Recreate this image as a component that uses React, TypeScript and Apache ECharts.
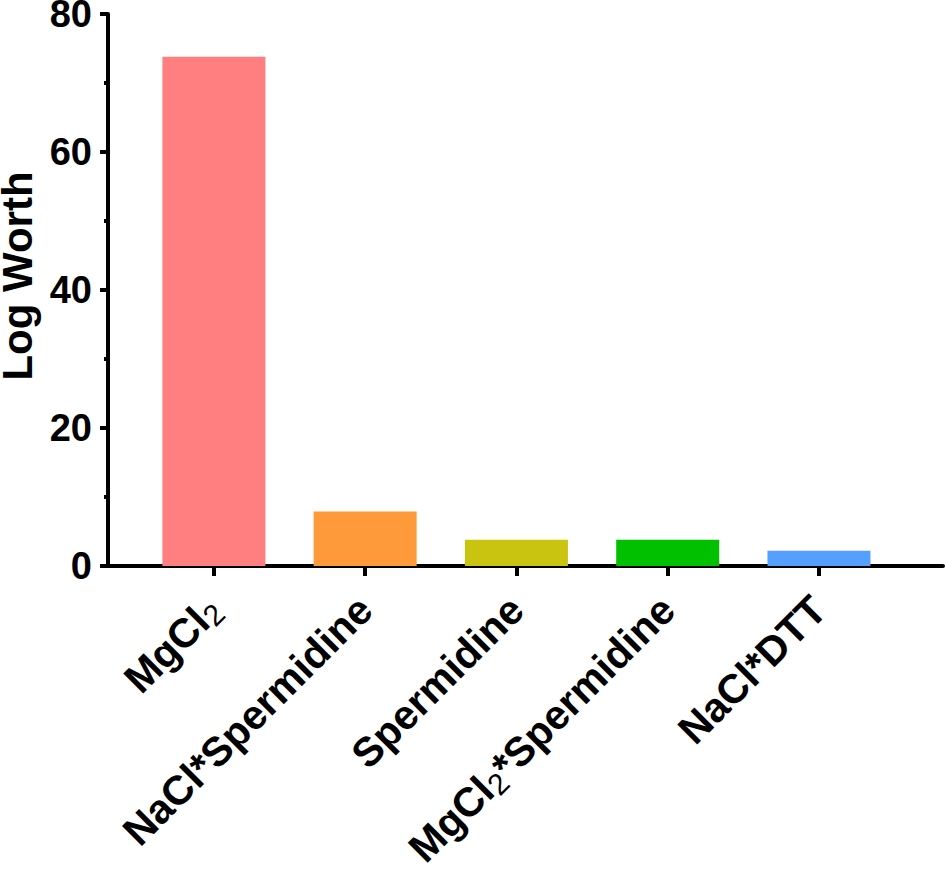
import React, { useEffect, useRef } from "react";
import * as echarts from "echarts";

const categories = ["MgCl2", "NaCl*Spermidine", "Spermidine", "MgCl2*Spermidine", "NaCl*DTT"];
const labelRich = ["{b|MgCl}{s|2}", "{b|NaCl*Spermidine}", "{b|Spermidine}", "{b|MgCl}{s|2}{b|*Spermidine}", "{b|NaCl*DTT}"];
const values = [73.8, 7.9, 3.8, 3.8, 2.2];
const colors = ["#FF7F80", "#FF9A3A", "#C8C40F", "#00C000", "#55A0FF"];
const yTicks = [0, 20, 40, 60, 80];

const FONT = "'Liberation Sans', Arial, sans-serif";

export default function App() {
  const ref = useRef<HTMLDivElement>(null);
  useEffect(() => {
    if (!ref.current) return;
    const chart = echarts.init(ref.current, null, { renderer: "svg" });
    const positions = categories.map((_, i) => i);
    chart.setOption({
      animation: false,
      backgroundColor: "#fff",
      grid: { left: 108, right: 2, top: 14, bottom: 306, containLabel: false, outerBoundsMode: "none" },
      xAxis: {
        type: "value",
        min: -0.7,
        max: 4.82,
        splitLine: { show: false },
        axisLine: { show: true, onZero: false, lineStyle: { color: "#000", width: 4 } },
        axisTick: { show: true, customValues: positions, length: 10, lineStyle: { color: "#000", width: 4 } },
        axisLabel: {
          show: true,
          customValues: positions,
          rotate: 45,
          margin: 37,
          formatter: (v: number) => labelRich[Math.round(v)] ?? "",
          rich: {
            b: { fontFamily: FONT, fontWeight: "bold", fontSize: 41, color: "#000", lineHeight: 46 },
            s: { fontFamily: FONT, fontWeight: "normal", fontSize: 30, color: "#000", lineHeight: 46, verticalAlign: "bottom", padding: [18, 0, 0, 0] },
          },
        },
      },
      yAxis: {
        type: "value",
        min: yTicks[0],
        max: yTicks[yTicks.length - 1],
        interval: 20,
        name: "Log Worth",
        nameLocation: "middle",
        nameGap: 70,
        nameTextStyle: { fontFamily: FONT, fontWeight: "bold", fontSize: 42, color: "#000", padding: [0, 0, 0, 28] },
        splitLine: { show: false },
        axisLine: { show: true, onZero: false, lineStyle: { color: "#000", width: 4 } },
        axisTick: { show: true, length: 8, lineStyle: { color: "#000", width: 4 } },
        minorTick: { show: true, splitNumber: 2, length: 4, lineStyle: { color: "#000", width: 4 } },
        minorSplitLine: { show: false },
        axisLabel: { fontFamily: FONT, fontWeight: "bold", fontSize: 38, color: "#000", margin: 16 },
      },
      series: [
        {
          type: "bar",
          barWidth: 103,
          data: values.map((v, i) => ({ value: [positions[i], v], itemStyle: { color: colors[i] } })),
        },
      ],
    });
    return () => chart.dispose();
  }, []);
  return <div ref={ref} style={{ position: "fixed", left: 0, top: 0, width: 945, height: 872 }} />;
}
